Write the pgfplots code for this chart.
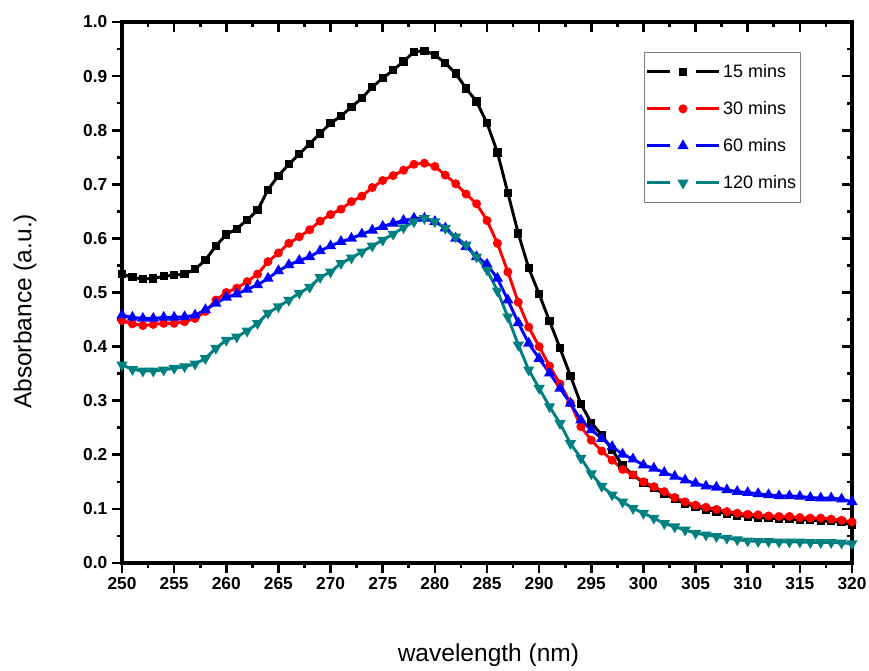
\documentclass[border=0pt]{standalone}
\usepackage{fontspec}
\setmainfont{Liberation Sans}
\usepackage{pgfplots}
\pgfplotsset{compat=1.18}
\usepackage{pgfplotstable}
\definecolor{tealc}{RGB}{0,128,128}

\pgfplotstableread{
x B R U T
250 0.534 0.448 0.458 0.366
251 0.528 0.442 0.454 0.358
252 0.525 0.439 0.452 0.355
253 0.526 0.441 0.452 0.355
254 0.530 0.443 0.454 0.357
255 0.532 0.443 0.454 0.360
256 0.534 0.446 0.455 0.363
257 0.543 0.452 0.458 0.368
258 0.560 0.465 0.468 0.378
259 0.586 0.486 0.480 0.397
260 0.607 0.500 0.491 0.412
261 0.618 0.508 0.497 0.418
262 0.634 0.520 0.506 0.429
263 0.652 0.534 0.514 0.443
264 0.690 0.557 0.526 0.462
265 0.716 0.573 0.540 0.474
266 0.737 0.591 0.551 0.486
267 0.756 0.603 0.559 0.499
268 0.775 0.616 0.566 0.510
269 0.794 0.632 0.577 0.528
270 0.813 0.644 0.586 0.538
271 0.826 0.654 0.594 0.554
272 0.843 0.668 0.600 0.564
273 0.859 0.678 0.608 0.575
274 0.880 0.694 0.615 0.586
275 0.896 0.707 0.622 0.597
276 0.911 0.716 0.628 0.608
277 0.927 0.726 0.633 0.620
278 0.945 0.737 0.637 0.631
279 0.947 0.739 0.637 0.637
280 0.939 0.733 0.631 0.631
281 0.924 0.717 0.619 0.619
282 0.905 0.701 0.600 0.603
283 0.877 0.682 0.585 0.588
284 0.853 0.664 0.566 0.566
285 0.813 0.633 0.552 0.542
286 0.759 0.591 0.526 0.503
287 0.684 0.538 0.486 0.455
288 0.609 0.482 0.444 0.403
289 0.545 0.436 0.406 0.357
290 0.497 0.400 0.378 0.323
291 0.447 0.364 0.351 0.289
292 0.397 0.331 0.323 0.258
293 0.346 0.296 0.295 0.221
294 0.294 0.252 0.264 0.194
295 0.259 0.227 0.246 0.165
296 0.237 0.207 0.230 0.142
297 0.209 0.190 0.215 0.126
298 0.180 0.173 0.201 0.113
299 0.163 0.163 0.192 0.101
300 0.148 0.150 0.181 0.092
301 0.138 0.141 0.175 0.083
302 0.128 0.132 0.167 0.073
303 0.118 0.121 0.160 0.067
304 0.110 0.113 0.153 0.061
305 0.104 0.107 0.147 0.055
306 0.099 0.103 0.142 0.052
307 0.095 0.099 0.140 0.049
308 0.091 0.095 0.135 0.046
309 0.088 0.092 0.132 0.043
310 0.086 0.090 0.130 0.041
311 0.084 0.089 0.128 0.040
312 0.083 0.087 0.126 0.040
313 0.082 0.086 0.124 0.039
314 0.081 0.086 0.124 0.039
315 0.080 0.084 0.123 0.039
316 0.079 0.083 0.121 0.038
317 0.078 0.083 0.120 0.038
318 0.077 0.081 0.120 0.038
319 0.076 0.079 0.118 0.037
320 0.070 0.076 0.113 0.036
}\datatable

\begin{document}
\begin{tikzpicture}
\begin{axis}[
  scale only axis, width=547.5pt, height=405.75pt, clip=false,
  xmin=250, xmax=320, ymin=0, ymax=1,
  xtick distance=5, ytick distance=0.1,
  minor x tick num=1, minor y tick num=1,
  axis line style={line width=2.4pt},
  major tick length=7.5pt, minor tick length=4pt,
  every tick/.style={line width=2pt, black},
  major tick style={line width=2pt, black},
  minor tick style={line width=2pt, black},
  tick align=outside, xtick pos=left, ytick pos=left,
  /pgf/number format/assume math mode=true,
  ticklabel style={font=\bfseries\fontsize{13}{15}\selectfont},
  yticklabel style={/pgf/number format/.cd, fixed, fixed zerofill, precision=1},
  xticklabel style={/pgf/number format/.cd, fixed, precision=0},
  xlabel={wavelength (nm)},
  ylabel={Absorbance (a.u.)},
  xlabel style={at={(axis description cs:0.502,-0.17)}, anchor=center, font=\fontsize{18.4}{22}\selectfont},
  ylabel style={at={(axis description cs:-0.133,0.465)}, anchor=center, font=\fontsize{18.4}{22}\selectfont},
  legend style={at={(axis description cs:0.715,0.9445)}, anchor=north west,
    draw=gray, font=\fontsize{13.5}{16}\selectfont,
    row sep=12.5pt, inner xsep=1pt, inner ysep=7pt, cells={anchor=west}},
  legend image code/.code={
    \draw[#1,mark=none] (0pt,0pt) -- (17pt,0pt);
    \draw[#1,mark=none] (37pt,0pt) -- (54pt,0pt);
    \draw[#1] plot coordinates {(27pt,0pt)};
  },
]
\coordinate (sw) at (rel axis cs:0,0);
\coordinate (ne) at (rel axis cs:1,1);
\pgfplotsinvokeforeach{255,260,...,315}{
  \draw[line width=2pt] (axis cs:#1,1) -- ([yshift=-7.5pt]axis cs:#1,1);
}
\pgfplotsinvokeforeach{252.5,257.5,...,317.5}{
  \draw[line width=2pt] (axis cs:#1,1) -- ([yshift=-4pt]axis cs:#1,1);
}
\pgfplotsinvokeforeach{0.1,0.2,...,0.95}{
  \draw[line width=2pt] (axis cs:320,#1) -- ([xshift=-7.5pt]axis cs:320,#1);
}
\pgfplotsinvokeforeach{0.05,0.15,...,0.96}{
  \draw[line width=2pt] (axis cs:320,#1) -- ([xshift=-4pt]axis cs:320,#1);
}
\addplot[black, line width=2.2pt, mark=square*, mark size=2.0pt, mark options={solid}] table[x=x,y=B] {\datatable};
\addlegendentry{15 mins}
\addplot[red, line width=2.2pt, mark=*, mark size=2.2pt, mark options={solid}] table[x=x,y=R] {\datatable};
\addlegendentry{30 mins}
\addplot[blue, line width=2.2pt, mark=triangle*, mark size=2.7pt, mark options={solid}] table[x=x,y=U] {\datatable};
\addlegendentry{60 mins}
\addplot[tealc, line width=2.2pt, mark=triangle*, mark size=2.7pt, mark options={solid, rotate=180}] table[x=x,y=T] {\datatable};
\addlegendentry{120 mins}
\end{axis}
\pgfresetboundingbox
\path[use as bounding box] ([shift={(-91.5pt,-80.25pt)}]sw) rectangle ([shift={(12.75pt,16.5pt)}]ne);
\end{tikzpicture}
\end{document}
